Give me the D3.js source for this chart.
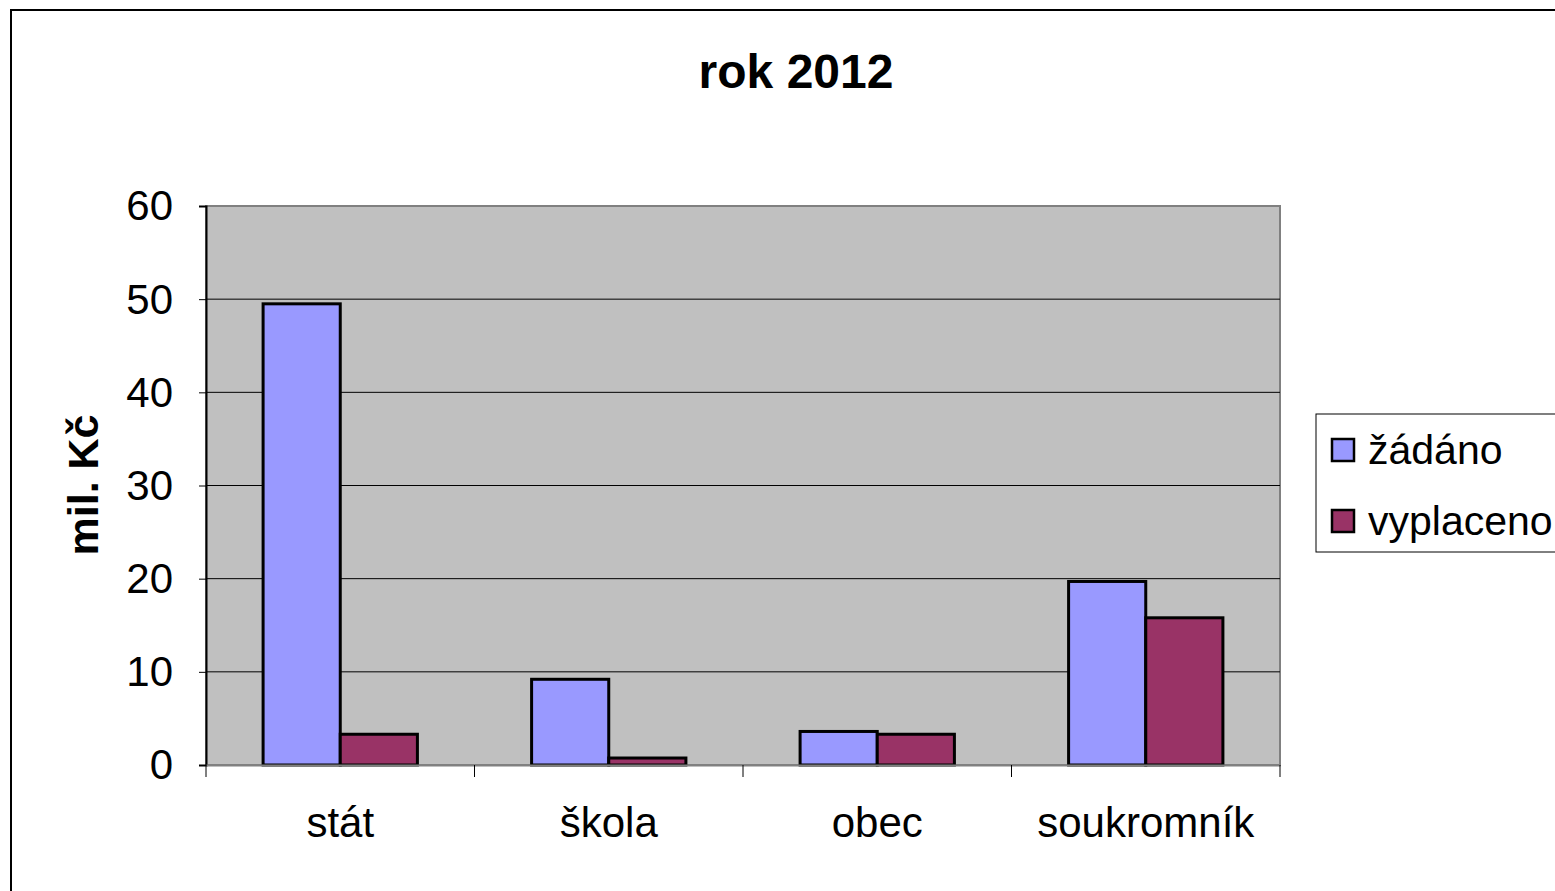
<!DOCTYPE html>
<html>
<head>
<meta charset="utf-8">
<script src="https://cdn.jsdelivr.net/npm/d3@7"></script>
<style>
  body { margin: 0; background: #fff; }
  text { font-family: "Liberation Sans", Arial, sans-serif; }
</style>
</head>
<body>
<div id="chart"></div>
<script>
const categories = ['stát', 'škola', 'obec', 'soukromník'];
const series = ['žádáno', 'vyplaceno'];
const zadano = [49.5, 9.2, 3.6, 19.7];
const vyplaceno = [3.3, 0.75, 3.3, 15.8];
const yTicks = [0, 10, 20, 30, 40, 50, 60];
const colors = ['#9999ff', '#993366'];

const width = 1555;
const height = 891;

const svg = d3.select('#chart')
  .append('svg')
  .attr('width', width)
  .attr('height', height);

// rámeček celého grafu
svg.append('rect')
  .attr('x', 11).attr('y', 10)
  .attr('width', 1600).attr('height', 1000)
  .attr('fill', '#fff')
  .attr('stroke', '#000')
  .attr('stroke-width', 2);

const plot = { left: 206, top: 206, right: 1280, bottom: 765 };

const x = d3.scaleBand()
  .domain(categories)
  .range([plot.left, plot.right]);

const xInner = d3.scaleBand()
  .domain(series)
  .range([0, x.bandwidth()])
  .paddingOuter(0.74);

const y = d3.scaleLinear()
  .domain([0, 60])
  .range([plot.bottom, plot.top]);

// pozadí plochy
svg.append('rect')
  .attr('x', plot.left).attr('y', plot.top)
  .attr('width', plot.right - plot.left)
  .attr('height', plot.bottom - plot.top)
  .attr('fill', '#c0c0c0')
  .attr('stroke', '#808080')
  .attr('stroke-width', 2);

// mřížka
svg.append('g')
  .selectAll('line')
  .data(yTicks.filter(d => d > 0 && d < 60))
  .enter()
  .append('line')
  .attr('x1', plot.left).attr('x2', plot.right)
  .attr('y1', d => y(d)).attr('y2', d => y(d))
  .attr('stroke', '#000')
  .attr('stroke-width', 1);

// sloupce
const data = categories.map((c, i) => ({ cat: c, values: [zadano[i], vyplaceno[i]] }));

const groups = svg.append('g')
  .selectAll('g')
  .data(data)
  .enter()
  .append('g')
  .attr('transform', d => `translate(${x(d.cat)},0)`);

groups.selectAll('rect')
  .data(d => d.values.map((v, j) => ({ s: series[j], v: v, j: j })))
  .enter()
  .append('rect')
  .attr('x', d => xInner(d.s))
  .attr('y', d => y(d.v))
  .attr('width', xInner.bandwidth())
  .attr('height', d => y(0) - y(d.v))
  .attr('fill', d => colors[d.j])
  .attr('stroke', '#000')
  .attr('stroke-width', 3);

// osa Y
const yAxis = svg.append('g')
  .attr('transform', `translate(${plot.left},0)`)
  .call(d3.axisLeft(y).tickValues(yTicks).tickSize(7).tickPadding(26));
yAxis.select('.domain').attr('stroke', '#000').attr('stroke-width', 2);
yAxis.selectAll('.tick line').attr('stroke', '#000');
yAxis.selectAll('text')
  .attr('font-size', 42)
  .attr('fill', '#000')
  .attr('dy', '0.33em');

// osa X
const xAxis = svg.append('g')
  .attr('transform', `translate(0,${plot.bottom})`)
  .call(d3.axisBottom(x).tickSize(0).tickPadding(42));
xAxis.select('.domain').attr('stroke', '#808080').attr('stroke-width', 2);
xAxis.selectAll('text')
  .attr('font-size', 42)
  .attr('fill', '#000');

// dělicí značky mezi kategoriemi
svg.append('g')
  .selectAll('line')
  .data(d3.range(categories.length + 1))
  .enter()
  .append('line')
  .attr('x1', i => plot.left + i * x.step())
  .attr('x2', i => plot.left + i * x.step())
  .attr('y1', plot.bottom)
  .attr('y2', plot.bottom + 12)
  .attr('stroke', '#000')
  .attr('stroke-width', 1);

// nadpis
svg.append('text')
  .attr('x', 796).attr('y', 88)
  .attr('text-anchor', 'middle')
  .attr('font-size', 48)
  .attr('font-weight', 'bold')
  .text('rok 2012');

svg.append('text')
  .attr('transform', 'translate(98,485) rotate(-90)')
  .attr('text-anchor', 'middle')
  .attr('font-size', 43)
  .attr('font-weight', 'bold')
  .text('mil. Kč');

// legenda
const legend = svg.append('g')
  .attr('class', 'legend');

legend.append('rect')
  .attr('x', 1316).attr('y', 414)
  .attr('width', 300).attr('height', 138)
  .attr('fill', '#fff')
  .attr('stroke', '#000')
  .attr('stroke-width', 1);

series.forEach((s, i) => {
  const g = legend.append('g')
    .attr('transform', `translate(1332,${439 + i * 71})`);
  g.append('rect')
    .attr('width', 22).attr('height', 22)
    .attr('fill', colors[i])
    .attr('stroke', '#000')
    .attr('stroke-width', 2.5);
  g.append('text')
    .attr('x', 36).attr('y', 25)
    .attr('font-size', 41)
    .text(s);
});
</script>
</body>
</html>
